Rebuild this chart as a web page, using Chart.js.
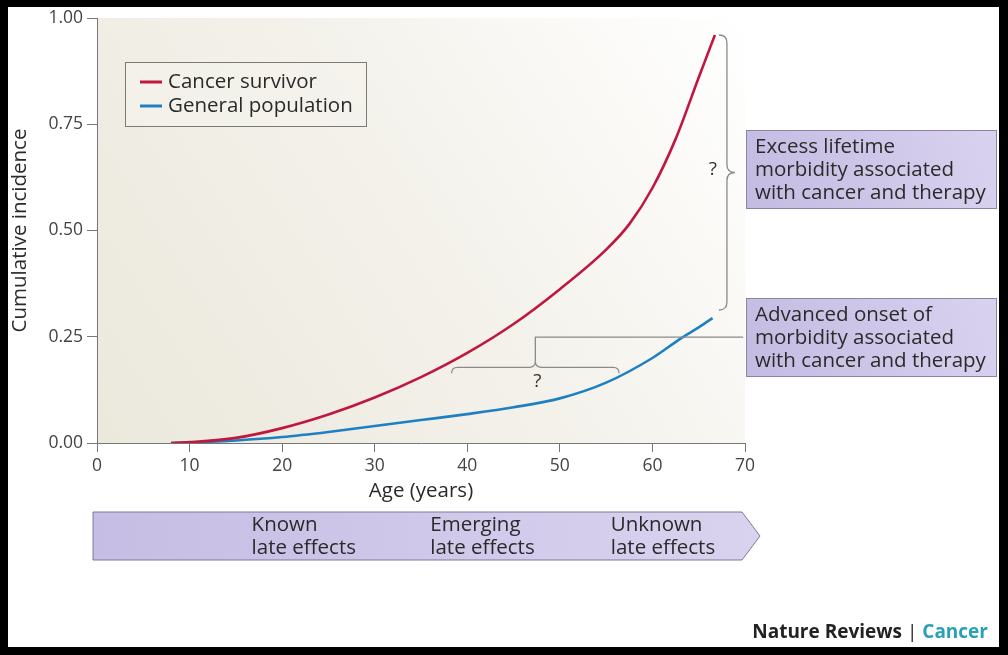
<!DOCTYPE html>
<html>
<head>
<meta charset="utf-8">
<script src="https://cdn.jsdelivr.net/npm/chart.js@4.4.1/dist/chart.umd.min.js"></script>
<style>
  html, body { margin:0; padding:0; background:#fff; }
  #wrap { width:1008px; height:655px; position:relative; }
</style>
</head>
<body>
<div id="wrap"><canvas id="lateEffects"></canvas></div>
<script>
// values
var ages      = [8, 10, 15, 20, 25, 30, 35, 40, 45, 50, 55, 57.5, 60, 62.5, 65, 66.75];
var survivor  = [0, 0.002, 0.012, 0.035, 0.067, 0.107, 0.155, 0.212, 0.280, 0.362, 0.455, 0.515, 0.60, 0.715, 0.86, 0.96];
var agesGen   = [8, 10, 15, 20, 25, 30, 35, 40, 45, 50, 55, 60, 63, 65, 66.5];
var general   = [0, 0.001, 0.006, 0.014, 0.026, 0.04, 0.054, 0.068, 0.084, 0.105, 0.142, 0.2, 0.245, 0.272, 0.294];
var xTicks = [0, 10, 20, 30, 40, 50, 60, 70];
var yTicks = [0, 0.25, 0.5, 0.75, 1];
var seriesNames = ["Cancer survivor", "General population"];
var seriesColors = ["#c0163f", "#1e80c1"];
var bandText = [["Known", "late effects"], ["Emerging", "late effects"], ["Unknown", "late effects"]];
var bandAges = [16.7, 36.0, 55.5];
var box1 = ["Excess lifetime", "morbidity associated", "with cancer and therapy"];
var box2 = ["Advanced onset of", "morbidity associated", "with cancer and therapy"];

var FONT = "'Open Sans', sans-serif";
var BIG = "20.5px " + FONT;

function pts(xs, ys) {
  var out = [];
  for (var i = 0; i < xs.length; i++) out.push({x: xs[i], y: ys[i]});
  return out;
}

function vBrace(ctx, x, y1, y2, w) {
  var ym = (y1 + y2) / 2;
  ctx.beginPath();
  ctx.moveTo(x - w, y1);
  ctx.quadraticCurveTo(x, y1, x, y1 + w);
  ctx.lineTo(x, ym - w);
  ctx.quadraticCurveTo(x, ym, x + w, ym);
  ctx.quadraticCurveTo(x, ym, x, ym + w);
  ctx.lineTo(x, y2 - w);
  ctx.quadraticCurveTo(x, y2, x - w, y2);
  ctx.stroke();
}

function hBrace(ctx, x1, x2, y, w) {
  var xm = (x1 + x2) / 2;
  ctx.beginPath();
  ctx.moveTo(x1, y + w);
  ctx.quadraticCurveTo(x1, y, x1 + w, y);
  ctx.lineTo(xm - w, y);
  ctx.quadraticCurveTo(xm, y, xm, y - w);
  ctx.quadraticCurveTo(xm, y, xm + w, y);
  ctx.lineTo(x2 - w, y);
  ctx.quadraticCurveTo(x2, y, x2, y + w);
  ctx.stroke();
}

function purpleBox(ctx, x, y, w, h, lines) {
  var g = ctx.createLinearGradient(x, y + h, x + w, y);
  g.addColorStop(0, "#c4bbe2");
  g.addColorStop(1, "#d9d2ef");
  ctx.fillStyle = g;
  ctx.fillRect(x, y, w, h);
  ctx.strokeStyle = "#8a83a6";
  ctx.lineWidth = 1;
  ctx.strokeRect(x + 0.5, y + 0.5, w - 1, h - 1);
  ctx.fillStyle = "#2a2a2a";
  ctx.font = BIG;
  ctx.textAlign = "left";
  ctx.textBaseline = "middle";
  for (var i = 0; i < lines.length; i++) ctx.fillText(lines[i], x + 9, y + 17 + i * 23);
}

var decor = {
  id: "decor",
  beforeDraw: function(chart) {
    var ctx = chart.ctx, a = chart.chartArea;
    ctx.save();
    var g = ctx.createLinearGradient(a.left, a.bottom, a.right, a.top);
    g.addColorStop(0, "#ebe8dc");
    g.addColorStop(0.5, "#f3f1ea");
    g.addColorStop(1, "#ffffff");
    ctx.fillStyle = g;
    ctx.fillRect(a.left, a.top, a.right - a.left, a.bottom - a.top);
    ctx.restore();
  },
  afterDraw: function(chart) {
    var ctx = chart.ctx, xs = chart.scales.x, ys = chart.scales.y;
    ctx.save();

    // legend
    ctx.strokeStyle = "#7a7a7a";
    ctx.lineWidth = 1;
    ctx.fillStyle = "rgba(245,243,236,0.6)";
    ctx.fillRect(125, 62, 241, 64);
    ctx.strokeRect(125.5, 62.5, 241, 64);
    ctx.font = BIG;
    ctx.textBaseline = "middle";
    ctx.textAlign = "left";
    for (var i = 0; i < seriesNames.length; i++) {
      var ly = 82 + i * 24;
      ctx.strokeStyle = seriesColors[i];
      ctx.lineWidth = 3;
      ctx.beginPath(); ctx.moveTo(140, ly); ctx.lineTo(162, ly); ctx.stroke();
      ctx.fillStyle = "#2a2a2a";
      ctx.fillText(seriesNames[i], 168, ly);
    }

    // big brace between curve ends
    ctx.strokeStyle = "#8a8a8a";
    ctx.lineWidth = 1.3;
    var bx = xs.getPixelForValue(68.05);
    var top = ys.getPixelForValue(survivor[survivor.length - 1]), bot = ys.getPixelForValue(0.313);
    vBrace(ctx, bx, top, bot, 8);
    ctx.fillStyle = "#333";
    ctx.font = "19px " + FONT;
    ctx.textAlign = "center";
    ctx.fillText("?", bx - 14, (top + bot) / 2 - 3);

    // horizontal brace for advanced onset
    var hx1 = xs.getPixelForValue(38.3), hx2 = xs.getPixelForValue(56.4);
    var hy = ys.getPixelForValue(0.178);
    hBrace(ctx, hx1, hx2, hy, 6);
    var hxm = (hx1 + hx2) / 2, stemY = ys.getPixelForValue(0.249);
    ctx.beginPath();
    ctx.moveTo(hxm, hy - 6);
    ctx.lineTo(hxm, stemY);
    ctx.lineTo(xs.getPixelForValue(69.8), stemY);
    ctx.stroke();
    ctx.fillText("?", hxm + 2, hy + 14);

    // text boxes
    purpleBox(ctx, 746, 130, 251, 79, box1);
    purpleBox(ctx, 746, 298, 251, 79, box2);

    // timeline banner
    var bl = 93, br = 742, tip = 760, bt = 512, bb = 560;
    var bg = ctx.createLinearGradient(bl, 0, tip, 0);
    bg.addColorStop(0, "#c6bde4");
    bg.addColorStop(1, "#d9d3ef");
    ctx.beginPath();
    ctx.moveTo(bl, bt); ctx.lineTo(br, bt); ctx.lineTo(tip, (bt + bb) / 2);
    ctx.lineTo(br, bb); ctx.lineTo(bl, bb); ctx.closePath();
    ctx.fillStyle = bg; ctx.fill();
    ctx.strokeStyle = "#7f7899"; ctx.lineWidth = 1; ctx.stroke();
    ctx.fillStyle = "#2a2a2a";
    ctx.font = BIG;
    ctx.textAlign = "left";
    for (var j = 0; j < bandText.length; j++) {
      var tx = xs.getPixelForValue(bandAges[j]);
      ctx.fillText(bandText[j][0], tx, 525);
      ctx.fillText(bandText[j][1], tx, 548);
    }

    // footer
    var FB = "bold 19px " + FONT;
    ctx.font = FB;
    var p1 = "Nature Reviews ", p2 = "| ", p3 = "Cancer";
    var w = ctx.measureText(p1 + p2 + p3).width;
    var fx = 988 - w;
    ctx.fillStyle = "#222";
    ctx.fillText(p1, fx, 633);
    fx += ctx.measureText(p1).width;
    ctx.font = "19px " + FONT;
    ctx.fillText(p2, fx, 633);
    fx += ctx.measureText(p2).width;
    ctx.font = FB;
    ctx.fillStyle = "#2a9fb8";
    ctx.fillText(p3, fx, 633);

    // black frame
    ctx.fillStyle = "#000";
    ctx.fillRect(0, 0, 1008, 7);
    ctx.fillRect(0, 0, 8, 655);
    ctx.fillRect(999, 0, 9, 655);
    ctx.fillRect(0, 647, 1008, 8);
    ctx.restore();
  }
};

new Chart("lateEffects", {
  type: "line",
  data: {
    datasets: [{
      label: seriesNames[0],
      data: pts(ages, survivor),
      borderColor: seriesColors[0],
      borderWidth: 2.6,
      pointRadius: 0,
      cubicInterpolationMode: "monotone"
    }, {
      label: seriesNames[1],
      data: pts(agesGen, general),
      borderColor: seriesColors[1],
      borderWidth: 2.6,
      pointRadius: 0,
      cubicInterpolationMode: "monotone"
    }]
  },
  options: {
    responsive: true,
    maintainAspectRatio: false,
    animation: false,
    layout: { padding: { left: 8, top: 18, right: 263, bottom: 150 } },
    plugins: { legend: { display: false }, tooltip: { enabled: false } },
    scales: {
      x: {
        type: "linear", min: 0, max: 70,
        afterBuildTicks: function(s) { s.ticks = xTicks.map(function(v) { return {value: v}; }); },
        afterFit: function(s) { s.height = 62; },
        grid: { drawOnChartArea: false, tickLength: 9, color: "#777" },
        border: { color: "#777" },
        ticks: { color: "#444", font: { family: FONT, size: 17.5 }, padding: 4, maxRotation: 0 },
        title: { display: true, text: "Age (years)", color: "#2a2a2a", font: { family: FONT, size: 20.5 }, padding: { top: 0, bottom: 2 } }
      },
      y: {
        min: 0, max: 1,
        afterBuildTicks: function(s) { s.ticks = yTicks.map(function(v) { return {value: v}; }); },
        afterFit: function(s) { s.width = 89; },
        grid: { drawOnChartArea: false, tickLength: 10, color: "#777" },
        border: { color: "#777" },
        ticks: { color: "#444", font: { family: FONT, size: 17.5 }, padding: 4,
          callback: function(v) { return v.toFixed(2); } },
        title: { display: true, text: "Cumulative incidence", color: "#2a2a2a", font: { family: FONT, size: 20.5 }, padding: { top: 0, bottom: 0 } }
      }
    }
  },
  plugins: [decor]
});
</script>
</body>
</html>
